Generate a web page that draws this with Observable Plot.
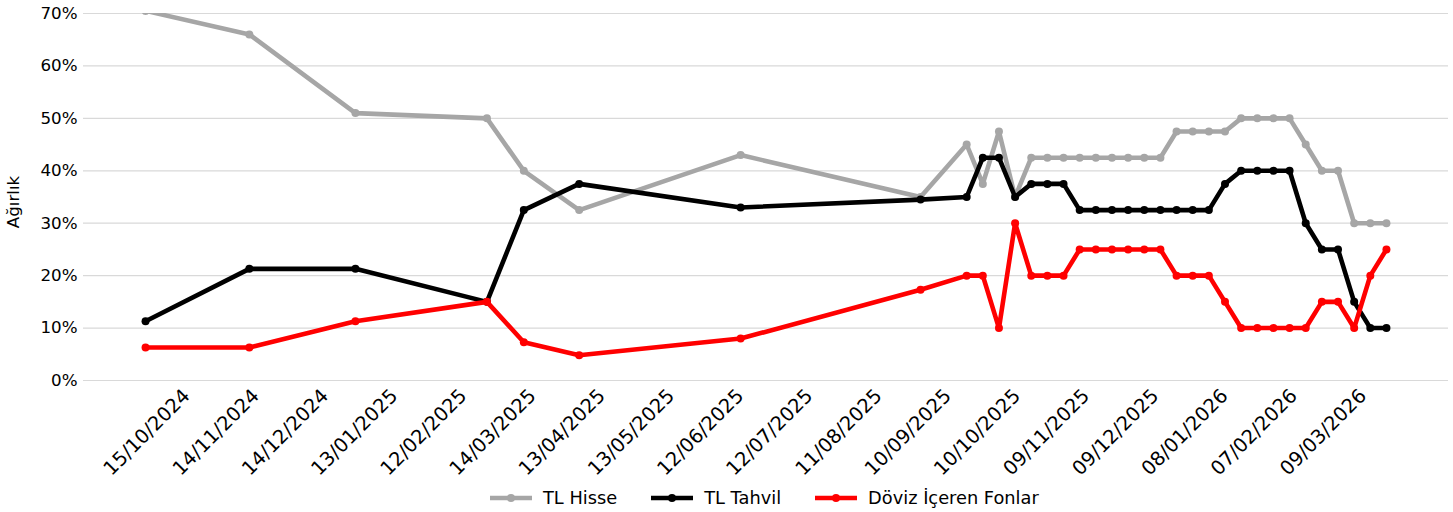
<!DOCTYPE html>
<html>
<head>
<meta charset="utf-8">
<script src="https://cdn.jsdelivr.net/npm/d3@7"></script>
<script src="https://cdn.jsdelivr.net/npm/@observablehq/plot@0.6"></script>
<style>
  html, body { margin: 0; padding: 0; background: #fff; }
  body { width: 1453px; height: 512px; position: relative; overflow: hidden; font-family: "DejaVu Sans", sans-serif; }
  #legend { position: absolute; left: 490px; top: 487px; display: flex; align-items: center; font-size: 17.8px; color: #000; white-space: nowrap; }
  .item { display: flex; align-items: center; margin-right: 34px; }
  .item svg { margin-right: 11px; }
</style>
</head>
<body>
<div id="chart"></div>
<div id="legend"></div>
<script>
// Dates of observations
const dates = [
  "2024-09-25", "2024-11-09", "2024-12-25", "2025-02-20", "2025-03-08", "2025-04-01",
  "2025-06-10", "2025-08-27",
  "2025-09-16", "2025-09-23", "2025-09-30", "2025-10-07", "2025-10-14", "2025-10-21",
  "2025-10-28", "2025-11-04", "2025-11-11", "2025-11-18", "2025-11-25", "2025-12-02",
  "2025-12-09", "2025-12-16", "2025-12-23", "2025-12-30", "2026-01-06", "2026-01-13",
  "2026-01-20", "2026-01-27", "2026-02-03", "2026-02-10", "2026-02-17", "2026-02-24",
  "2026-03-03", "2026-03-10", "2026-03-17"
];

const seriesNames = ["TL Hisse", "TL Tahvil", "Döviz İçeren Fonlar"];
const seriesColors = ["#a6a6a6", "#000000", "#ff0000"];

// Weights (%)
const tlHisse = [
  70.5, 66, 51, 50, 40, 32.5, 43, 35,
  45, 37.5, 47.5, 35,
  42.5, 42.5, 42.5, 42.5, 42.5, 42.5, 42.5, 42.5, 42.5,
  47.5, 47.5, 47.5, 47.5,
  50, 50, 50, 50,
  45, 40, 40, 30, 30, 30
];
const tlTahvil = [
  11.3, 21.3, 21.3, 15, 32.5, 37.5, 33, 34.5,
  35, 42.5, 42.5, 35,
  37.5, 37.5, 37.5,
  32.5, 32.5, 32.5, 32.5, 32.5, 32.5, 32.5, 32.5, 32.5,
  37.5, 40, 40, 40, 40,
  30, 25, 25, 15, 10, 10
];
const doviz = [
  6.3, 6.3, 11.3, 15, 7.3, 4.8, 8, 17.3,
  20, 20, 10, 30,
  20, 20, 20,
  25, 25, 25, 25, 25, 25,
  20, 20, 20, 15,
  10, 10, 10, 10, 10,
  15, 15, 10, 20, 25
];

// Axis ticks
const yTicks = [0, 10, 20, 30, 40, 50, 60, 70];
const xTickDates = [
  "2024-10-15", "2024-11-14", "2024-12-14", "2025-01-13", "2025-02-12", "2025-03-14",
  "2025-04-13", "2025-05-13", "2025-06-12", "2025-07-12", "2025-08-11", "2025-09-10",
  "2025-10-10", "2025-11-09", "2025-12-09", "2026-01-08", "2026-02-07", "2026-03-09"
];
const yLabel = "Ağırlık";

const parse = d3.utcParse("%Y-%m-%d");
const allValues = [tlHisse, tlTahvil, doviz];
const rows = [];
seriesNames.forEach((name, s) => {
  dates.forEach((d, i) => rows.push({series: name, date: parse(d), value: allValues[s][i]}));
});
const series = (name) => rows.filter(r => r.series === name);

const d0 = parse(dates[0]), d1 = parse(dates[dates.length - 1]);
const pad = (d1 - d0) * 0.05;
const xDomain = [new Date(+d0 - pad), new Date(+d1 + pad)];

const font = "DejaVu Sans";
const fs = 16.7;

const marks = [
  Plot.gridY(yTicks, {stroke: "#d9d9d9", strokeOpacity: 1, strokeWidth: 1.2}),
  Plot.axisY(yTicks, {
    tickSize: 0, tickPadding: 6, tickFormat: d => d + "%",
    fontSize: fs, fill: "#000", label: null
  }),
  Plot.text([yLabel], {
    text: d => d, frameAnchor: "left", rotate: -90, textAnchor: "middle", lineAnchor: "top",
    dx: -76, dy: 5, fontSize: fs, fill: "#000"
  }),
  Plot.axisX(xTickDates.map(parse), {
    tickSize: 0, tickPadding: 12, tickRotate: -45,
    textAnchor: "end", lineAnchor: "middle", dx: -5,
    tickFormat: d3.utcFormat("%d/%m/%Y"), fontSize: 19.5, fill: "#000", label: null
  })
];
seriesNames.forEach((name, s) => {
  marks.push(Plot.line(series(name), {x: "date", y: "value", stroke: seriesColors[s], strokeWidth: 4.6, clip: true}));
  marks.push(Plot.dot(series(name), {x: "date", y: "value", fill: seriesColors[s], r: 4, clip: true}));
});

const chart = Plot.plot({
  width: 1453, height: 482,
  marginLeft: 83, marginRight: 5, marginTop: 13, marginBottom: 102,
  style: {fontFamily: font, fontSize: fs + "px", background: "#fff", color: "#000"},
  x: {type: "utc", domain: xDomain},
  y: {domain: [0, 70]},
  marks
});
document.getElementById("chart").appendChild(chart);

// Legend
const legend = document.getElementById("legend");
seriesNames.forEach((name, s) => {
  const item = document.createElement("div");
  item.className = "item";
  item.innerHTML = `<svg width="42" height="12"><line x1="0" y1="6" x2="42" y2="6" stroke="${seriesColors[s]}" stroke-width="4.6"/><circle cx="21" cy="6" r="4" fill="${seriesColors[s]}"/></svg><span>${name}</span>`;
  legend.appendChild(item);
});
</script>
</body>
</html>
